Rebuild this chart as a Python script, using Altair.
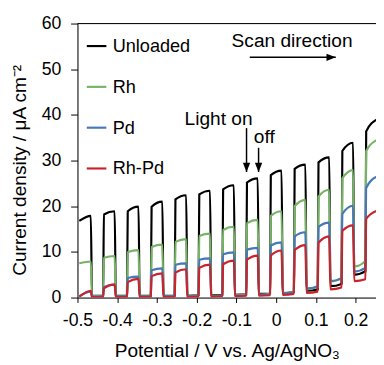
import altair as alt
import pandas as pd

FONT = "Liberation Sans, Arial, sans-serif"

series = ["Unloaded", "Rh", "Pd", "Rh-Pd"]
colors = ["#000000", "#77b366", "#4677b8", "#c8242b"]

# potentials (V) where light is switched on / off
light_on = [-0.497, -0.435, -0.375, -0.315, -0.255, -0.195, -0.135, -0.075,
            -0.015, 0.045, 0.105, 0.165, 0.225]
light_off = [-0.465, -0.405, -0.345, -0.285, -0.225, -0.165, -0.105, -0.045,
             0.015, 0.075, 0.135, 0.195, 0.255]

# current density at start / end of each light-on period
on_start = {
    "Unloaded": [16.8, 18.2, 18.9, 19.9, 21.5, 22.6, 23.7, 25.2, 26.8, 28.2, 29.6, 32.1, 36.4],
    "Rh":       [7.5, 8.7, 10.0, 11.1, 12.2, 13.5, 14.8, 16.3, 17.9, 20.0, 22.1, 26.1, 32.1],
    "Pd":       [0.3, 2.3, 4.3, 6.0, 7.2, 8.3, 9.5, 10.5, 11.4, 13.4, 15.5, 18.3, 24.0],
    "Rh-Pd":    [0.2, 2.0, 3.4, 4.7, 5.5, 6.5, 7.3, 8.3, 9.2, 10.4, 12.0, 14.6, 17.2],
}
on_end = {
    "Unloaded": [17.9, 18.9, 19.9, 21.0, 22.4, 23.4, 24.6, 26.1, 27.8, 29.1, 30.7, 33.9, 39.0],
    "Rh":       [7.9, 9.1, 10.4, 11.6, 12.8, 14.0, 15.5, 17.0, 18.9, 21.4, 23.6, 27.9, 34.5],
    "Pd":       [1.3, 2.8, 4.6, 6.4, 7.5, 8.6, 9.9, 10.9, 12.1, 14.3, 16.4, 20.1, 26.5],
    "Rh-Pd":    [1.5, 2.9, 4.1, 5.3, 6.2, 7.2, 8.1, 9.2, 10.3, 11.5, 13.4, 15.8, 19.0],
}
# current density at start / end of each light-off period
off_start = {
    "Unloaded": [0.4, 0.4, 0.4, 0.4, 0.4, 0.5, 0.6, 0.8, 1.0, 1.5, 2.5, 5.0],
    "Rh":       [0.4, 0.3, 0.3, 0.3, 0.3, 0.4, 0.5, 0.6, 0.9, 1.8, 3.5, 6.8],
    "Pd":       [0.2, 0.2, 0.2, 0.2, 0.3, 0.3, 0.4, 0.6, 0.9, 2.0, 3.6, 5.7],
    "Rh-Pd":    [0.1, 0.1, 0.1, 0.1, 0.1, 0.2, 0.3, 0.4, 0.6, 1.0, 1.8, 3.6],
}
off_end = {
    "Unloaded": [0.4, 0.4, 0.4, 0.4, 0.5, 0.6, 0.7, 0.9, 1.2, 1.8, 3.0, 5.8],
    "Rh":       [0.3, 0.3, 0.3, 0.3, 0.4, 0.5, 0.6, 0.8, 1.3, 2.3, 4.3, 8.0],
    "Pd":       [0.2, 0.2, 0.3, 0.3, 0.3, 0.4, 0.5, 0.7, 1.2, 2.5, 4.2, 6.5],
    "Rh-Pd":    [0.1, 0.1, 0.1, 0.1, 0.2, 0.3, 0.4, 0.5, 0.8, 1.3, 2.2, 4.0],
}

x_ticks = [-0.5, -0.4, -0.3, -0.2, -0.1, 0.0, 0.1, 0.2]
y_ticks = [0, 10, 20, 30, 40, 50, 60]

# annotations
ann_text = ["Scan direction", "Light on", "off"]
ann_x = [0.040, -0.145, -0.030]
ann_y = [56.2, 39.1, 35.1]
down_arrow_x = [-0.0746, -0.0443]
down_arrow_top = [37.1, 32.8]
down_arrow_tip = [27.5, 27.5]
scan_arrow_y = [52.6]
scan_arrow_start = [-0.0665]
scan_arrow_tip = [0.150]

# ---- build the line table
rows = []
edge = 0.0015
for s in series:
    i = 0
    n = len(light_on)
    for k in range(n):
        if k > 0:
            rows.append(dict(series=s, x=light_on[k] - 0.0005, y=off_end[s][k - 1], i=i)); i += 1
        rows.append(dict(series=s, x=light_on[k] + edge, y=on_start[s][k], i=i)); i += 1
        rows.append(dict(series=s, x=light_off[k] - edge, y=on_end[s][k], i=i)); i += 1
        if k < n - 1:
            rows.append(dict(series=s, x=light_off[k] + edge, y=off_start[s][k], i=i)); i += 1
df = pd.DataFrame(rows)

x_scale = alt.Scale(domain=[-0.5, 0.2512], nice=False, zero=False)
y_scale = alt.Scale(domain=[0, 60], nice=False)

x_axis = alt.Axis(
    values=x_ticks, grid=False, tickSize=5, labelPadding=10,
    labelExpr="datum.value == 0 ? '0' : (datum.value < 0 ? '-' + format(-datum.value, '.1f') : format(datum.value, '.1f'))",
    labelFont=FONT, labelFontSize=18, labelColor="black",
    title="Potential / V vs. Ag/AgNO₃", titleFont=FONT, titleFontSize=19.5,
    titleFontWeight="normal", titleColor="black", titleY=60, titleBaseline="alphabetic",
    domainColor="black", tickColor="black", labelFlush=False,
)
y_axis = alt.Axis(
    values=y_ticks, grid=False, tickSize=7, labelPadding=10, ticks=True,
    labelFont=FONT, labelFontSize=18, labelColor="black", labelAlign="right",
    title="Current density / μA cm⁻²", titleFont=FONT, titleFontSize=19.5,
    titleFontWeight="normal", titleColor="black", titleX=-59, titleY=149.5,
    titleAngle=270, titleAlign="center", titleBaseline="middle",
    domainColor="black", tickColor="black", labelFlush=False,
)

lines = alt.Chart(df).mark_line(strokeWidth=2.2, interpolate="monotone", clip=True).encode(
    x=alt.X("x:Q", scale=x_scale, axis=x_axis),
    y=alt.Y("y:Q", scale=y_scale, axis=y_axis),
    color=alt.Color(
        "series:N",
        scale=alt.Scale(domain=series, range=colors),
        legend=alt.Legend(
            orient="none", legendX=8, legendY=11.5, title=None,
            symbolType="stroke", symbolSize=400, symbolStrokeWidth=2.2,
            labelFont=FONT, labelFontSize=18.5, labelColor="black",
            rowPadding=20.7, labelOffset=5, padding=0,
        ),
    ),
    order="i:Q",
)

top_border = alt.Chart(pd.DataFrame({"v": [60]})).mark_rule(color="black", strokeWidth=1).encode(
    y=alt.Y("v:Q", scale=y_scale)
)

ann = alt.Chart(pd.DataFrame({"t": ann_text, "x": ann_x, "y": ann_y})).mark_text(
    font=FONT, fontSize=19.5, color="black", align="center", baseline="middle"
).encode(x=alt.X("x:Q", scale=x_scale), y=alt.Y("y:Q", scale=y_scale), text="t:N")

down_df = pd.DataFrame({"x": down_arrow_x, "y": down_arrow_top, "y2": down_arrow_tip})
down_shaft = alt.Chart(down_df).mark_rule(color="black", strokeWidth=1.5).encode(
    x=alt.X("x:Q", scale=x_scale), y=alt.Y("y:Q", scale=y_scale), y2="y2:Q"
)
down_head = alt.Chart(down_df).mark_point(
    shape="M-0.75,-1.9L0.75,-1.9L0,0Z", filled=True, size=100, color="black", opacity=1, strokeWidth=0
).encode(x=alt.X("x:Q", scale=x_scale), y=alt.Y("y2:Q", scale=y_scale))

scan_df = pd.DataFrame({"x": scan_arrow_start, "x2": scan_arrow_tip, "y": scan_arrow_y})
scan_shaft = alt.Chart(scan_df).mark_rule(color="black", strokeWidth=1.5).encode(
    x=alt.X("x:Q", scale=x_scale), x2="x2:Q", y=alt.Y("y:Q", scale=y_scale)
)
scan_head = alt.Chart(scan_df).mark_point(
    shape="M-1.9,-0.75L-1.9,0.75L0,0Z", filled=True, size=100, color="black", opacity=1, strokeWidth=0
).encode(x=alt.X("x2:Q", scale=x_scale), y=alt.Y("y:Q", scale=y_scale))

chart = alt.layer(
    lines, top_border, ann, down_shaft, down_head, scan_shaft, scan_head
).properties(
    width=305, height=280,
    padding={"left": 71, "top": 12, "right": 0, "bottom": 65},
    autosize=alt.AutoSizeParams(type="none"),
).configure_view(stroke=None).configure(background="white").configure_axisX(
    tickSize=5, labelPadding=10
).configure_axisY(
    tickSize=7, labelPadding=10
)

chart.save("out.html", embed_options={"renderer": "svg", "actions": False})
